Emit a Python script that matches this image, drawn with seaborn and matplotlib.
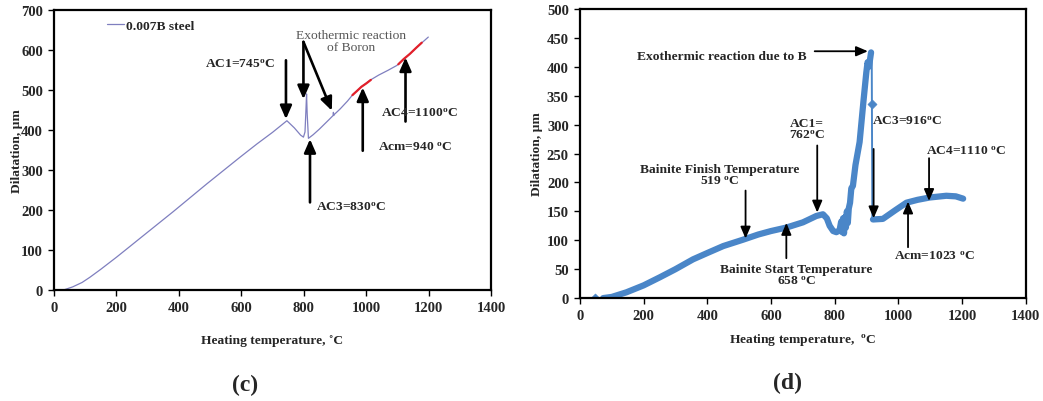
import numpy as np
import pandas as pd
import matplotlib
matplotlib.use("Agg")
import matplotlib.pyplot as plt
import seaborn as sns

# ---------------- data: panel (c) ----------------
c_temp = [30, 60, 90, 115, 150, 200, 240, 275, 382, 489, 596, 650, 700, 746, 770,
          790, 799, 804, 807, 809, 811, 815, 830, 850, 880, 894, 895, 896, 897,
          916, 940, 959, 985, 1012, 1040, 1070, 1098, 1130, 1160, 1199]
c_dil = [0, 8, 19, 32, 52, 82, 107, 129, 196, 265, 332, 365, 394, 423, 405,
         387, 382, 395, 450, 490, 440, 379, 388, 402, 425, 436, 444, 436, 438,
         452, 472, 490, 508, 524, 537, 549, 561, 583, 605, 632]
c_red1_temp = [956, 970, 985, 1000, 1015]
c_red1_dil = [487, 497, 508, 516, 525]
c_red2_temp = [1103, 1120, 1140, 1160, 1178]
c_red2_dil = [564, 577, 590, 605, 618]

# ---------------- data: panel (d) ----------------
d_temp = [73, 100, 146, 200, 251, 300, 355, 400, 450, 512, 560, 600, 648, 700,
          742, 763, 775, 784, 795, 805, 815, 820, 823, 826, 829, 832, 835, 838,
          841, 844, 848, 852, 857, 865, 878, 890, 899, 903, 907, 910, 914]
d_dil = [0, 2, 10, 22, 36, 50, 67, 78, 90, 101, 110, 116, 122, 131,
         142, 145, 138, 125, 116, 114, 117, 132, 114, 138, 112, 140, 122, 150,
         130, 155, 165, 190, 194, 230, 270, 340, 390, 408, 400, 410, 425]
d_drop_temp = [914, 916, 918, 920]
d_drop_dil = [425, 425, 137, 136]
d_after_temp = [920, 951, 990, 1025, 1060, 1098, 1150, 1180, 1203]
d_after_dil = [136, 137, 152, 165, 170, 174, 177, 176, 172]
d_pts_temp = [47, 917]
d_pts_dil = [0, 335]

sns.set_style("white")
plt.rcParams['font.family'] = ['Liberation Serif', 'DejaVu Serif']
plt.rcParams['font.weight'] = 'bold'
plt.rcParams['mathtext.fontset'] = 'custom'
plt.rcParams['mathtext.rm'] = 'Liberation Serif'
plt.rcParams['mathtext.bf'] = 'Liberation Serif:bold'
plt.rcParams['mathtext.it'] = 'Liberation Serif:italic'

fig = plt.figure(figsize=(10.43, 4.02), dpi=100)
axc = fig.add_axes([0.0518, 0.276, 0.419, 0.697])
axd = fig.add_axes([0.556, 0.256, 0.4276, 0.719])

deg = r"$^{\mathbf{o}}$"
fs = 9.7
tfs = 10.5

# ---------- panel (c) ----------
dc = pd.DataFrame({"T": c_temp, "D": c_dil})
sns.lineplot(data=dc, x="T", y="D", ax=axc, color="#7f7fbf", lw=0.9,
             estimator=None, sort=False, label="0.007B steel")
for tx, dy in [(c_red1_temp, c_red1_dil), (c_red2_temp, c_red2_dil)]:
    sns.lineplot(x=tx, y=dy, ax=axc, color="#e3202a", lw=1.6,
                 estimator=None, sort=False, legend=False)

axc.set_xlim(0, 1400)
axc.set_ylim(0, 700)
axc.set_xticks(range(0, 1401, 200))
axc.set_yticks(range(0, 701, 100))
axc.set_xlabel("Heating temperature, ˚C", fontsize=fs, fontweight='bold', labelpad=14)
axc.set_ylabel("Dilatation, µm", fontsize=fs, fontweight='bold', labelpad=-1.5)
leg = axc.legend(loc="upper left", bbox_to_anchor=(0.122, 0.967), frameon=False,
                 handlelength=1.2, handletextpad=0.2, borderpad=0, borderaxespad=0,
                 fontsize=fs)
for t in leg.get_texts():
    t.set_fontweight('bold')

aprops = dict(arrowstyle="-|>,head_length=0.8,head_width=0.35", color="black", lw=1.9,
              shrinkA=0, shrinkB=0)
axc.annotate("", xy=(743, 427), xytext=(743, 574), arrowprops=aprops)
axc.text(596, 564, "AC1=745" + deg + "C", ha="center", va="center", fontsize=fs)
axc.annotate("", xy=(799, 477), xytext=(799, 620), arrowprops=aprops)
axc.annotate("", xy=(890, 448), xytext=(799, 620), arrowprops=aprops)
axc.text(953, 622, "Exothermic reaction\nof Boron", ha="center", va="center",
         fontsize=fs, fontweight='normal', color="#555555", linespacing=1.05)
axc.annotate("", xy=(820, 377), xytext=(820, 219), arrowprops=aprops)
axc.text(951, 207, "AC3=830" + deg + "C", ha="center", va="center", fontsize=fs)
axc.annotate("", xy=(989, 506), xytext=(989, 348), arrowprops=aprops)
axc.text(1156, 357, "Acm=940 " + deg + "C", ha="center", va="center", fontsize=fs)
axc.annotate("", xy=(1126, 581), xytext=(1126, 421), arrowprops=aprops)
axc.text(1169, 444, "AC4=1100" + deg + "C", ha="center", va="center", fontsize=fs)

# ---------- panel (d) ----------
blue = "#4a86c8"
sns.lineplot(x=d_temp, y=d_dil, ax=axd, color=blue, lw=4.5, estimator=None,
             sort=False, legend=False)
sns.lineplot(x=d_drop_temp, y=d_drop_dil, ax=axd, color=blue, lw=1.4,
             estimator=None, sort=False, legend=False)
sns.lineplot(x=d_after_temp, y=d_after_dil, ax=axd, color=blue, lw=4.5,
             estimator=None, sort=False, legend=False)
sns.scatterplot(x=d_pts_temp, y=d_pts_dil, ax=axd, color=blue, marker="D", s=22,
                edgecolor=blue, legend=False)

axd.set_xlim(0, 1400)
axd.set_ylim(0, 500)
axd.set_xticks(range(0, 1401, 200))
axd.set_yticks(range(0, 501, 50))
axd.set_xlabel("Heating temperature,  " + deg + "C", fontsize=fs, fontweight='bold',
               labelpad=6)
axd.set_ylabel("Dilatation, µm", fontsize=fs, fontweight='bold', labelpad=3)

bprops = dict(arrowstyle="-|>,head_length=0.7,head_width=0.3", color="black", lw=1.3,
              shrinkA=0, shrinkB=0)
axd.annotate("", xy=(904, 427), xytext=(737, 427), arrowprops=bprops)
axd.text(713, 419, "Exothermic reaction due to B", ha="right", va="center", fontsize=fs)
axd.annotate("", xy=(745, 148), xytext=(745, 264), arrowprops=bprops)
axd.text(713, 292, "AC1=\n762" + deg + "C", ha="center", va="center", fontsize=fs,
         linespacing=1.0)
axd.annotate("", xy=(922, 138), xytext=(922, 258), arrowprops=bprops)
axd.text(917, 307, "AC3=916" + deg + "C", ha="left", va="center", fontsize=fs)
axd.annotate("", xy=(1096, 168), xytext=(1096, 242), arrowprops=bprops)
axd.text(1213, 255, "AC4=1110 " + deg + "C", ha="center", va="center", fontsize=fs)
axd.annotate("", xy=(1030, 167), xytext=(1030, 88), arrowprops=bprops)
axd.text(1114, 74, "Acm=1023 " + deg + "C", ha="center", va="center", fontsize=fs)
axd.annotate("", xy=(520, 103), xytext=(520, 186), arrowprops=bprops)
axd.text(439, 213, "Bainite Finish Temperature\n519 " + deg + "C", ha="center",
         va="center", fontsize=fs, linespacing=1.05)
axd.annotate("", xy=(648, 130), xytext=(648, 69), arrowprops=bprops)
axd.text(680, 40, "Bainite Start Temperature\n658 " + deg + "C", ha="center",
         va="center", fontsize=fs, linespacing=1.05)

for ax in (axc, axd):
    for s in ax.spines.values():
        s.set_visible(True)
        s.set_color("black")
        s.set_linewidth(1.6)
    ax.tick_params(axis="both", direction="out", length=4, width=1, labelsize=tfs,
                   color="black", pad=4, bottom=True, left=True)
    for lab in ax.get_xticklabels() + ax.get_yticklabels():
        lab.set_fontweight('bold')
    ax.set_facecolor("white")

fig.text(245 / 1043, 1 - 385 / 402, "(c)", ha="center", va="center", fontsize=17,
         fontweight='bold')
fig.text(788 / 1043, 1 - 383 / 402, "(d)", ha="center", va="center", fontsize=17,
         fontweight='bold')

fig.savefig("out.png", dpi=100, facecolor="white")
